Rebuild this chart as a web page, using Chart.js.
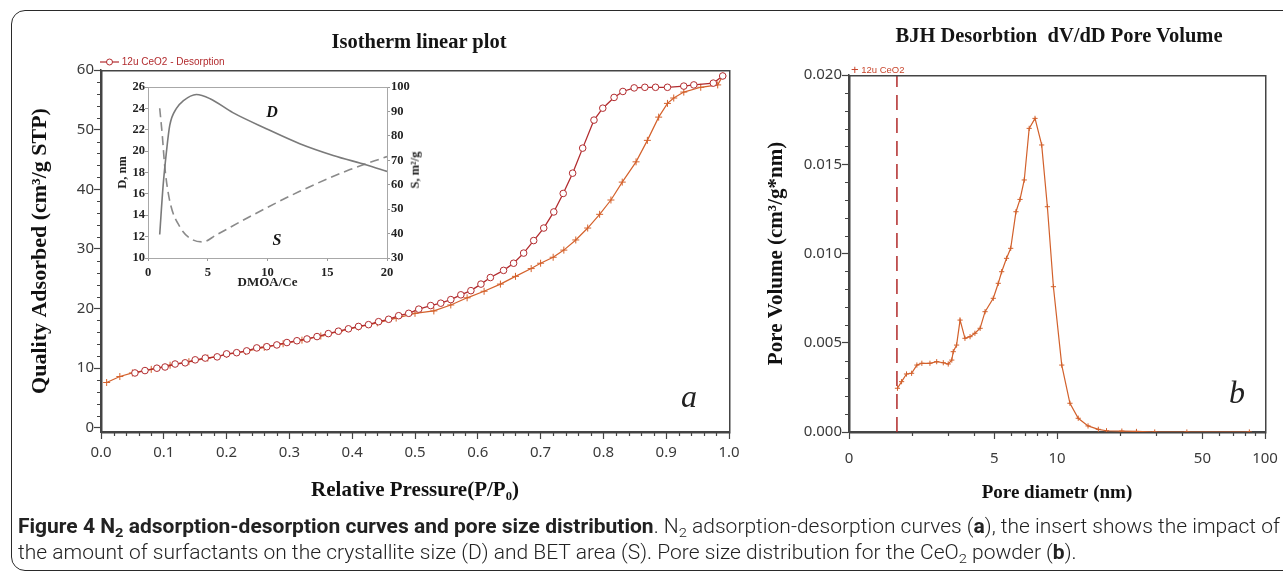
<!DOCTYPE html>
<html><head><meta charset="utf-8">
<script src="https://cdn.jsdelivr.net/npm/chart.js@4.4.1/dist/chart.umd.min.js"></script>
<style>
html,body{margin:0;padding:0;background:#fff;}
body{width:1283px;height:574px;overflow:hidden;position:relative;}
canvas{position:absolute;}
#frame{position:absolute;left:11px;top:10px;width:1300px;height:561px;border:1.5px solid #2a2a2a;border-radius:14px;box-sizing:border-box;}
.t{position:absolute;white-space:nowrap;transform:translate(-50%,-50%);line-height:1;}
.serifB{font-family:"Liberation Serif","DejaVu Serif",serif;font-weight:bold;color:#151515;}
.ital{font-family:"Liberation Serif","DejaVu Serif",serif;font-style:italic;color:#222;}
.leg{position:absolute;font-family:"Liberation Sans","DejaVu Sans",sans-serif;white-space:nowrap;line-height:1;}
#cap{position:absolute;left:18px;top:514px;font-family:"Liberation Sans Narrow","Roboto","DejaVu Sans",sans-serif;font-size:19.5px;font-weight:300;color:#222;}
#cap b{font-weight:700;}
.cl{height:26px;line-height:26px;white-space:nowrap;}
.cl span{display:inline-block;transform-origin:0 50%;}
sub{font-size:0.7em;vertical-align:-0.3em;line-height:0;}
</style></head>
<body>
<div id="frame"></div>
<canvas id="cIso" width="760" height="520" style="left:0;top:0;width:760px;height:520px"></canvas>
<canvas id="cIns" width="330" height="215" style="left:100px;top:75px;width:330px;height:215px"></canvas>
<canvas id="cBjh" width="523" height="520" style="left:760px;top:0;width:523px;height:520px"></canvas>

<div class="t serifB" style="left:419px;top:41px;font-size:20.5px;">Isotherm linear plot</div>
<div class="t serifB" style="left:1059px;top:35px;font-size:20.5px;">BJH Desorbtion&nbsp; dV/dD Pore Volume</div>

<div class="leg" style="left:100px;top:57px;font-size:10px;color:#b22b2e;">
<svg width="19" height="10" style="vertical-align:middle"><line x1="0" y1="5" x2="19" y2="5" stroke="#b22b2e" stroke-width="1.2"/><circle cx="9.5" cy="5" r="3" fill="#fff" stroke="#b22b2e" stroke-width="1"/></svg> 12u CeO2 - Desorption</div>
<div class="leg" style="left:851px;top:63px;font-size:9.5px;color:#c8452c;"><span style="font-size:13px;vertical-align:-1px">+</span> 12u CeO2</div>

<div class="t ital" style="left:689px;top:396px;font-size:32px;">a</div>
<div class="t ital" style="left:1237px;top:392px;font-size:32px;">b</div>
<div class="t serifB" style="left:272px;top:112px;font-size:16px;font-style:italic;">D</div>
<div class="t serifB" style="left:277px;top:240px;font-size:16px;font-style:italic;">S</div>
<div class="t serifB" style="left:415px;top:170px;font-size:12.5px;transform:translate(-50%,-50%) rotate(-90deg);">S, m²/g</div>

<div id="cap">
<div class="cl"><span id="l1"><b>Figure 4 N<sub>2</sub> adsorption-desorption curves and pore size distribution</b>. N<sub>2</sub> adsorption-desorption curves (<b>a</b>), the insert shows the impact of</span></div>
<div class="cl"><span id="l2">the amount of surfactants on the crystallite size (D) and BET area (S). Pore size distribution for the CeO<sub>2</sub> powder (<b>b</b>).</span></div>
</div>

<script>
// ---------- Data: isotherm (panel a) ----------
const desP = [0.054,0.070,0.089,0.102,0.118,0.134,0.150,0.166,0.185,0.200,0.216,0.232,0.248,0.264,0.280,0.296,0.312,0.328,0.344,0.362,0.378,0.394,0.410,0.426,0.442,0.458,0.474,0.490,0.506,0.525,0.541,0.557,0.573,0.589,0.605,0.620,0.641,0.657,0.673,0.689,0.705,0.721,0.736,0.751,0.767,0.785,0.799,0.817,0.831,0.849,0.866,0.883,0.902,0.928,0.944,0.975,0.990];
const desV = [9.2,9.6,10.0,10.2,10.7,10.9,11.4,11.7,11.9,12.4,12.6,12.9,13.4,13.6,13.9,14.3,14.6,14.9,15.3,15.8,16.2,16.6,17.0,17.3,17.8,18.2,18.8,19.2,19.9,20.5,20.9,21.5,22.3,23.0,24.1,25.2,26.4,27.6,29.3,31.4,33.5,36.2,39.3,42.7,46.9,51.6,53.6,55.4,56.4,57.0,57.1,57.1,57.1,57.3,57.5,57.8,59.0];
const adsP = [0.009,0.030,0.050,0.080,0.110,0.140,0.170,0.200,0.230,0.260,0.290,0.320,0.350,0.380,0.410,0.440,0.470,0.500,0.530,0.557,0.583,0.610,0.636,0.660,0.685,0.700,0.720,0.737,0.756,0.775,0.794,0.812,0.830,0.852,0.870,0.888,0.902,0.912,0.928,0.955,0.982,0.990];
const adsV = [7.6,8.6,9.2,9.8,10.5,11.1,11.7,12.3,12.8,13.5,14.1,14.7,15.4,16.2,16.9,17.6,18.4,19.2,19.6,20.6,21.8,22.9,24.1,25.4,26.7,27.6,28.6,29.8,31.5,33.5,35.8,38.2,41.2,44.6,48.2,52.1,54.4,55.3,56.3,57.1,57.5,59.0];
const isoXTicks = [0,0.1,0.2,0.3,0.4,0.5,0.6,0.7,0.8,0.9,1.0];
const isoYTicks = [0,10,20,30,40,50,60];

// ---------- Data: inset ----------
const insDx = [0.98,1.26,1.54,1.82,2.38,2.94,4.05,5.2,7.1,9.9,12.7,15.5,18.3,20];
const insD  = [12.2,16.7,19.9,22.4,24.0,24.7,25.3,24.9,23.6,22.1,20.7,19.6,18.7,18.1];
const insSx = [0.98,1.2,1.4,1.8,2.66,3.8,4.6,5.7,8.5,12.7,16.9,20];
const insS  = [91.3,80,67.6,53.8,42.8,37.3,36.6,39.4,46.9,57.3,66.2,71.5];
const insXTicks = [0,5,10,15,20];
const insDTicks = [10,12,14,16,18,20,22,24,26];
const insSTicks = [30,40,50,60,70,80,90,100];

// ---------- Data: BJH (panel b) ----------
const bjhD = [1.71,1.79,1.89,2.00,2.12,2.24,2.45,2.64,2.84,3.00,3.12,3.17,3.29,3.42,3.61,3.82,4.03,4.27,4.51,4.94,5.22,5.42,5.72,5.99,6.35,6.64,6.96,7.35,7.84,8.44,8.99,9.61,10.54,11.54,12.65,14.1,15.8,17.3,20.5,24.1,29.5,42.1,84.1];
const bjhV = [0.00245,0.00282,0.00325,0.00329,0.00375,0.00385,0.00385,0.00394,0.00388,0.00381,0.00403,0.00450,0.00487,0.00627,0.00525,0.00534,0.00553,0.00581,0.00674,0.00749,0.00833,0.00898,0.00973,0.01029,0.01234,0.01303,0.01412,0.01701,0.01757,0.01608,0.01262,0.00814,0.00375,0.00161,0.00077,0.00034,0.00015,0.00007,0.00005,0.00003,0,0,0];
const bjhCutoff = 1.70;
const bjhXTicks = [1,5,10,50,100];
const bjhXLabels = ['0','5','10','50','100'];
const bjhXMinor = [2,3,4,6,7,8,9,20,30,40,60,70,80,90];
const bjhYTicks = [0,0.005,0.010,0.015,0.020];

// ---------- helpers ----------
const serif = '"Liberation Serif","DejaVu Serif",serif';
const sans = '"Noto Sans","DejaVu Sans",sans-serif';
const pts = (xs, ys) => xs.map((x, i) => ({x, y: ys[i]}));
const setTicks = arr => s => { s.ticks = arr.map(v => ({value: v})); };

const isoXMinor = []; for (let i = 1; i < 50; i++) if (i % 5) isoXMinor.push(i / 50);
const isoYMinor = []; for (let v = 2; v < 60; v += 2) if (v % 10) isoYMinor.push(v);
const bjhYMinor = []; for (let i = 1; i < 20; i++) if (i % 5) bjhYMinor.push(i / 1000);

const frameBox = {
  id: 'frameBox',
  afterDraw(chart, args, o) {
    const a = chart.chartArea, c = chart.ctx;
    c.save(); c.strokeStyle = o.color || '#333'; c.lineWidth = o.width || 1;
    c.strokeRect(Math.round(a.left) + 0.5 * (o.width % 2), Math.round(a.top) + 0.5 * (o.width % 2), Math.round(a.right - a.left), Math.round(a.bottom - a.top));
    c.restore();
  }
};
const minorTicks = {
  id: 'minorTicks',
  afterDraw(chart, args, o) {
    const c = chart.ctx;
    (o.list || []).forEach(m => {
      const s = chart.scales[m.axis];
      c.save(); c.strokeStyle = m.color || '#333'; c.lineWidth = m.width || 1; c.beginPath();
      m.values.forEach(v => {
        const p = Math.round(s.getPixelForValue(v)) + 0.5;
        if (s.isHorizontal()) { c.moveTo(p, s.top); c.lineTo(p, s.top + m.len); }
        else { c.moveTo(s.right, p); c.lineTo(s.right - m.len, p); }
      });
      c.stroke(); c.restore();
    });
  }
};
// draws the tick labels of a log axis (so every listed label is shown)
const logLabels = {
  id: 'logLabels',
  afterDraw(chart, args, o) {
    if (!o.axis) return;
    const s = chart.scales[o.axis], c = chart.ctx;
    c.save(); c.fillStyle = o.color; c.font = o.font; c.textAlign = 'center'; c.textBaseline = 'middle';
    o.values.forEach((v, i) => c.fillText(o.labels[i], s.getPixelForValue(v), s.top + o.offset));
    c.restore();
  }
};

const axisCol = '#3a3a3a';
const tickFont = {family: sans, size: 15};

// ---------- Panel a ----------
new Chart(document.getElementById('cIso'), {
  type: 'line',
  data: { datasets: [
    { label: '12u CeO2 - Desorption', data: pts(desP, desV), borderColor: '#b22b2e', backgroundColor: '#fff',
      borderWidth: 1.3, pointStyle: 'circle', pointRadius: 3.3, pointBorderWidth: 1, pointBackgroundColor: '#fff', tension: 0 },
    { label: '12u CeO2 - Adsorption', data: pts(adsP, adsV), borderColor: '#d4612b', backgroundColor: '#d4612b',
      borderWidth: 1.2, pointStyle: 'cross', pointRadius: 3.5, pointBorderWidth: 1, tension: 0 }
  ]},
  options: {
    responsive: false, animation: false, events: [],
    layout: { padding: { top: 70, right: 31, left: 0, bottom: 0 } },
    plugins: { legend: { display: false }, tooltip: { enabled: false },
      frameBox: { color: '#444', width: 1.5 },
      minorTicks: { list: [ { axis: 'x', values: isoXMinor, len: 4, color: '#444', width: 1.2 },
                            { axis: 'y', values: isoYMinor, len: 4, color: '#444', width: 1.2 } ] } },
    scales: {
      x: { type: 'linear', min: 0, max: 1, afterBuildTicks: setTicks(isoXTicks), afterFit: s => { s.height = 88; },
        grid: { display: true, drawOnChartArea: false, drawTicks: true, tickLength: 7, tickColor: '#444', tickWidth: 1.2 },
        border: { color: '#444', width: 1.5 },
        ticks: { padding: 5, color: axisCol, font: tickFont, maxRotation: 0, autoSkip: false, callback: v => v.toFixed(1) },
        title: { display: true, text: 'Relative Pressure(P/P\u2080)', color: '#111', font: { family: serif, size: 21, weight: 'bold' }, padding: { top: 0, bottom: 17 } } },
      y: { type: 'linear', min: -0.7, max: 60, afterBuildTicks: setTicks(isoYTicks), afterFit: s => { s.width = 101; },
        grid: { display: true, drawOnChartArea: false, drawTicks: true, tickLength: 7, tickColor: '#444', tickWidth: 1.2 },
        border: { color: '#444', width: 1.5 },
        ticks: { padding: 0, color: axisCol, font: tickFont, autoSkip: false, callback: v => String(v) },
        title: { display: true, text: 'Quality Adsorbed (cm³/g STP)', color: '#111', font: { family: serif, size: 22, weight: 'bold' }, padding: { top: 27, bottom: 0 } } }
    }
  },
  plugins: [frameBox, minorTicks]
});

// ---------- Inset ----------
const insFont = { family: serif, size: 12.5, weight: 'bold' };
new Chart(document.getElementById('cIns'), {
  type: 'line',
  data: { datasets: [
    { label: 'D', data: pts(insDx, insD), yAxisID: 'yD', borderColor: '#7a7a7a', borderWidth: 1.6, pointRadius: 0, cubicInterpolationMode: 'monotone' },
    { label: 'S', data: pts(insSx, insS), yAxisID: 'yS', borderColor: '#8a8a8a', borderWidth: 1.6, borderDash: [9, 5], pointRadius: 0, cubicInterpolationMode: 'monotone' }
  ]},
  options: {
    responsive: false, animation: false, events: [],
    layout: { padding: { top: 12, right: 0, left: 0, bottom: 0 } },
    plugins: { legend: { display: false }, tooltip: { enabled: false }, frameBox: { color: '#a8a8a8', width: 1 } },
    scales: {
      x: { type: 'linear', min: 0, max: 20, afterBuildTicks: setTicks(insXTicks), afterFit: s => { s.height = 32; },
        grid: { display: true, drawOnChartArea: false, tickLength: 3, tickColor: '#999' }, border: { color: '#a8a8a8', width: 1 },
        ticks: { padding: 4, color: '#222', font: insFont, maxRotation: 0, autoSkip: false },
        title: { display: true, text: 'DMOA/Ce', color: '#222', font: { family: serif, size: 13, weight: 'bold' }, padding: { top: 0, bottom: 0 } } },
      yD: { type: 'linear', position: 'left', min: 10, max: 26, afterBuildTicks: setTicks(insDTicks), afterFit: s => { s.width = 48; },
        grid: { display: true, drawOnChartArea: false, tickLength: 3, tickColor: '#999' }, border: { color: '#a8a8a8', width: 1 },
        ticks: { padding: 0, color: '#222', font: insFont, autoSkip: false },
        title: { display: true, text: 'D, nm', color: '#222', font: { family: serif, size: 12.5, weight: 'bold' }, padding: { top: 15, bottom: 0 } } },
      yS: { type: 'linear', position: 'right', min: 30, max: 100, afterBuildTicks: setTicks(insSTicks), afterFit: s => { s.width = 43; },
        grid: { display: true, drawOnChartArea: false, tickLength: 3, tickColor: '#999' }, border: { color: '#a8a8a8', width: 1 },
        ticks: { padding: 1, color: '#222', font: insFont, autoSkip: false } }
    }
  },
  plugins: [frameBox]
});

// ---------- Panel b ----------
new Chart(document.getElementById('cBjh'), {
  type: 'line',
  data: { datasets: [
    { label: '12u CeO2', data: pts(bjhD, bjhV), borderColor: '#d2602b', backgroundColor: '#d2602b', borderWidth: 1.2,
      pointStyle: 'cross', pointRadius: 2.6, pointBorderWidth: 1, tension: 0 },
    { label: 'cutoff', data: [{x: bjhCutoff, y: bjhYTicks[0]}, {x: bjhCutoff, y: bjhYTicks[bjhYTicks.length - 1]}],
      borderColor: '#b02a2a', borderWidth: 1.5, borderDash: [15, 8], pointRadius: 0 }
  ]},
  options: {
    responsive: false, animation: false, events: [],
    layout: { padding: { top: 75, right: 18, left: 0, bottom: 0 } },
    plugins: { legend: { display: false }, tooltip: { enabled: false },
      frameBox: { color: '#444', width: 1.5 },
      logLabels: { axis: 'x', values: bjhXTicks, labels: bjhXLabels, color: axisCol, font: '15px ' + sans, offset: 27 },
      minorTicks: { list: [ { axis: 'x', values: bjhXMinor, len: 4, color: '#444', width: 1.2 },
                            { axis: 'y', values: bjhYMinor, len: 4, color: '#444', width: 1.2 } ] } },
    scales: {
      x: { type: 'logarithmic', min: 1, max: 100, afterBuildTicks: setTicks(bjhXTicks), afterFit: s => { s.height = 88; },
        grid: { display: true, drawOnChartArea: false, drawTicks: true, tickLength: 7, tickColor: '#444', tickWidth: 1.2 },
        border: { color: '#444', width: 1.5 },
        ticks: { display: false },
        title: { display: true, text: 'Pore diametr (nm)', color: '#111', font: { family: serif, size: 19, weight: 'bold' }, padding: { top: 0, bottom: 16 } } },
      y: { type: 'linear', min: 0, max: 0.020, afterBuildTicks: setTicks(bjhYTicks), afterFit: s => { s.width = 89; },
        grid: { display: true, drawOnChartArea: false, drawTicks: true, tickLength: 7, tickColor: '#444', tickWidth: 1.2 },
        border: { color: '#444', width: 1.5 },
        ticks: { padding: 0, color: axisCol, font: tickFont, autoSkip: false, callback: v => v.toFixed(3) },
        title: { display: true, text: 'Pore Volume (cm³/g*nm)', color: '#111', font: { family: serif, size: 21, weight: 'bold' }, padding: { top: 4, bottom: 0 } } }
    }
  },
  plugins: [frameBox, minorTicks, logLabels]
});

// ---------- caption fit ----------
function fitCaption() {
  const l1 = document.getElementById('l1'), l2 = document.getElementById('l2');
  l1.style.transform = ''; l2.style.transform = '';
  const k = 1262 / l1.getBoundingClientRect().width;
  l1.style.transform = 'scaleX(' + k + ')';
  l2.style.transform = 'scaleX(' + k + ')';
}
fitCaption();
if (document.fonts && document.fonts.ready) document.fonts.ready.then(fitCaption);
</script>
</body></html>
